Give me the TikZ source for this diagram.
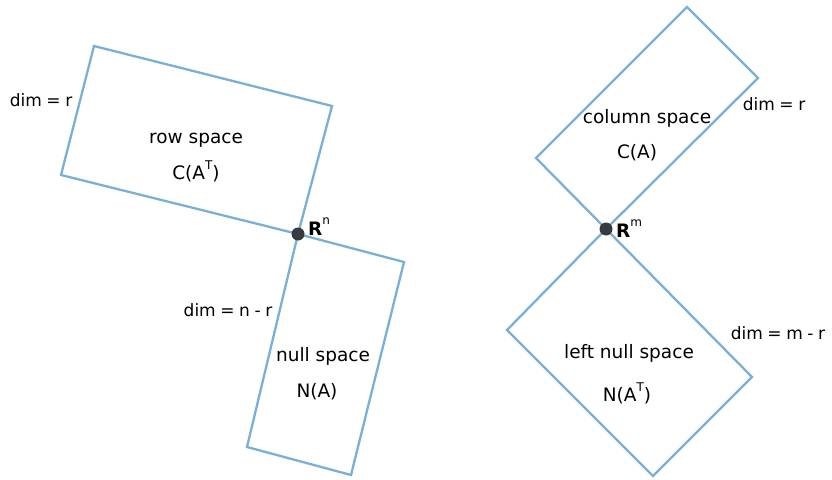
\documentclass[tikz,border=0pt]{standalone}
\usepackage{fontspec}
\setmainfont{DejaVu Sans}
\newfontfamily\dimfont[WordSpace=0.85]{DejaVu Sans}
\definecolor{edge}{RGB}{122,176,214}
\definecolor{dotc}{RGB}{55,58,62}
\tikzset{
  space/.style={draw=edge, line width=2.3pt, line join=miter},
  lbl/.style={font=\fontsize{18.5}{21}\selectfont, text=black, inner sep=0pt},
  dimlbl/.style={font=\dimfont\fontsize{17}{20}\selectfont, text=black, inner sep=0pt},
  pt/.style={circle, fill=dotc, minimum size=13pt, inner sep=0pt},
}
\newcommand{\supT}{\raisebox{1.0ex}{\fontsize{12}{13}\selectfont T}}
\newcommand{\supX}[1]{\raisebox{1.1ex}{\fontsize{12}{13}\selectfont #1}}
\begin{document}
\begin{tikzpicture}[x=1pt,y=-1pt]
\useasboundingbox (0,0) rectangle (832,479);
% row space
\coordinate (rn) at (298,234);
\coordinate (r1) at (94,46);
\coordinate (r2) at (332,106);
\coordinate (r3) at (61,175);
\draw[space] (rn) -- (r2) -- (r1) -- (r3) -- cycle;
% null space
\coordinate (n1) at (404,262);
\coordinate (n2) at (351,475);
\coordinate (n3) at (247,447);
\draw[space] (rn) -- (n1) -- (n2) -- (n3) -- cycle;
% column space
\coordinate (rm) at (606,229);
\coordinate (c1) at (758,78);
\coordinate (c2) at (687,7);
\coordinate (c3) at (536,158);
\draw[space] (rm) -- (c1) -- (c2) -- (c3) -- cycle;
% left null space
\coordinate (l1) at (752,377);
\coordinate (l2) at (653,476);
\coordinate (l3) at (507,330);
\draw[space] (rm) -- (l1) -- (l2) -- (l3) -- cycle;
% dots
\node[pt] (dn) at (rn) {};
\node[pt] (dm) at (rm) {};
% labels
\node[dimlbl] (dimr1) at (41,100) {dim = r};
\node[lbl] (rowsp) at (196,140) {row space};
\node[lbl] (cat) at (196,171) {C(A\supT)};
\node[lbl, anchor=west] (Rn) at (308,227) {\textbf{R}\supX{n}};
\node[dimlbl] (dimnr) at (228,310) {dim = n - r};
\node[lbl] (nullsp) at (323,356) {null space};
\node[lbl] (na) at (317,392) {N(A)};
\node[lbl] (colsp) at (647,118) {column space};
\node[lbl] (ca) at (637,153) {C(A)};
\node[dimlbl] (dimr2) at (774,104) {dim = r};
\node[lbl, anchor=west] (Rm) at (616,229) {\textbf{R}\supX{m}};
\node[lbl] (lnullsp) at (629,353) {left null space};
\node[lbl] (nat) at (627,393) {N(A\supT)};
\node[dimlbl] (dimmr) at (778,333) {dim = m - r};
\end{tikzpicture}
\end{document}
